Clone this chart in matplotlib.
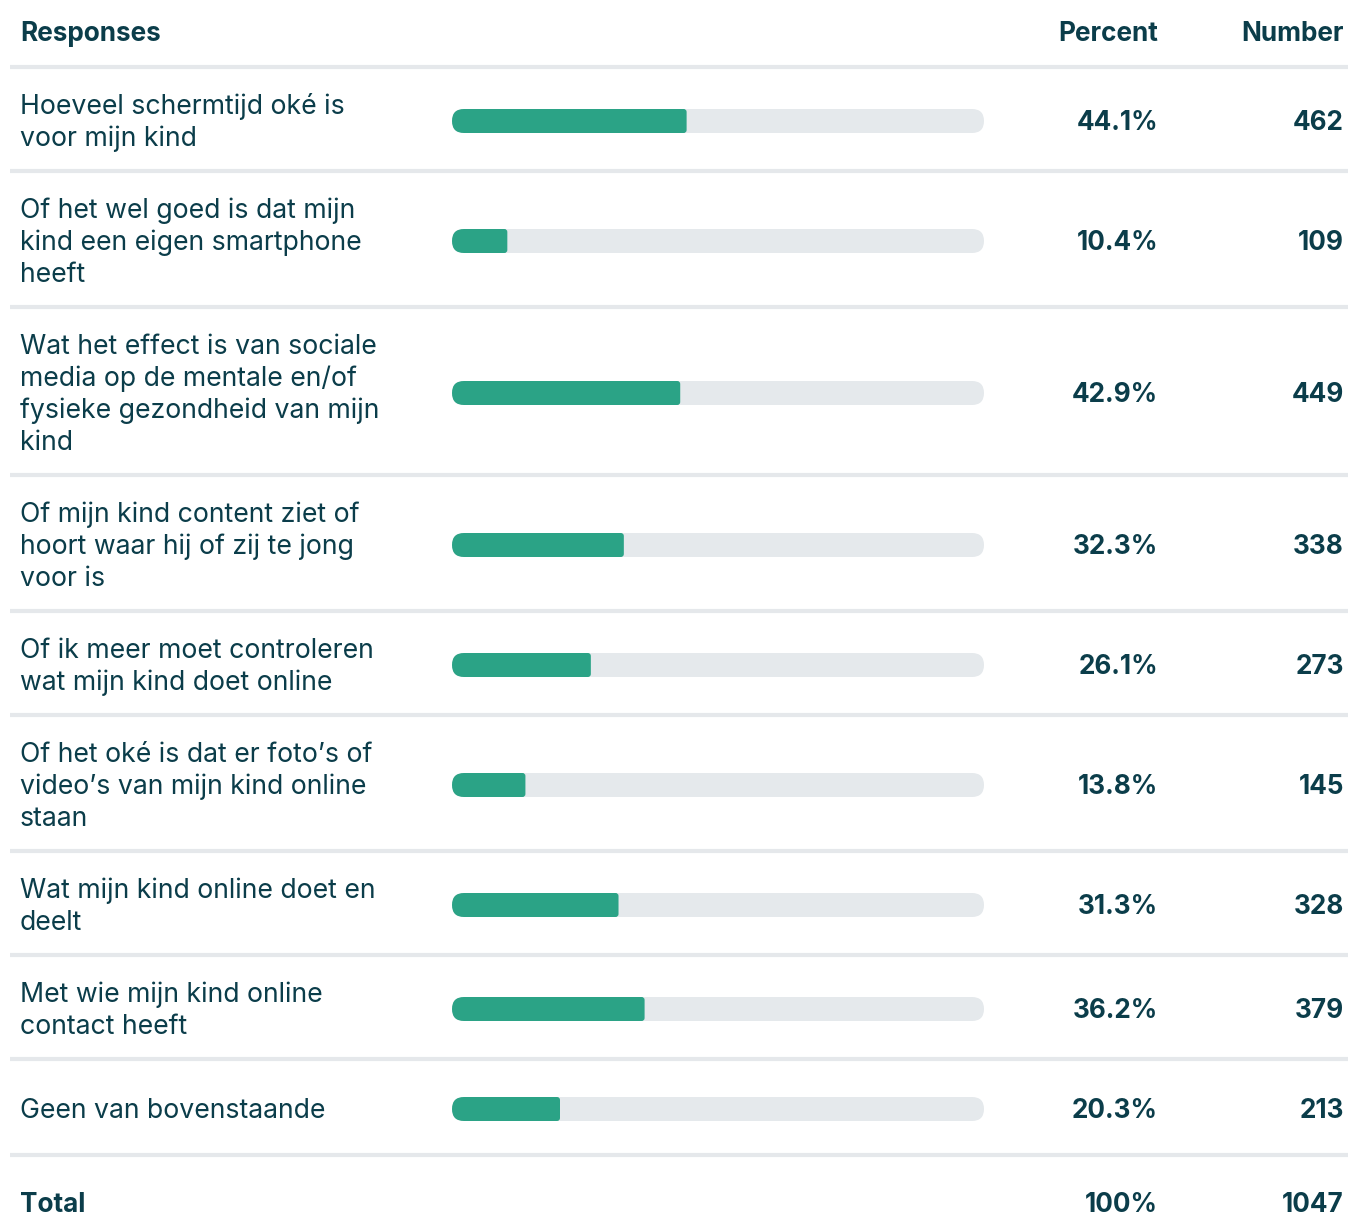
import matplotlib
matplotlib.use("Agg")
import matplotlib.pyplot as plt
from matplotlib.patches import FancyBboxPatch

# Survey responses (label lines), percentages and counts
responses = [
    "Hoeveel schermtijd oké is\nvoor mijn kind",
    "Of het wel goed is dat mijn\nkind een eigen smartphone\nheeft",
    "Wat het effect is van sociale\nmedia op de mentale en/of\nfysieke gezondheid van mijn\nkind",
    "Of mijn kind content ziet of\nhoort waar hij of zij te jong\nvoor is",
    "Of ik meer moet controleren\nwat mijn kind doet online",
    "Of het oké is dat er foto’s of\nvideo’s van mijn kind online\nstaan",
    "Wat mijn kind online doet en\ndeelt",
    "Met wie mijn kind online\ncontact heeft",
    "Geen van bovenstaande",
]
percent = [44.1, 10.4, 42.9, 32.3, 26.1, 13.8, 31.3, 36.2, 20.3]
number = [462, 109, 449, 338, 273, 145, 328, 379, 213]
total_label = "Total"
total_percent = "100%"
total_number = 1047
headers = ["Responses", "Percent", "Number"]

W, H = 1348, 1216
TEXT = "#0b3d4a"
GREEN = "#2ba386"
TRACK = "#e5e9ec"
RULE = "#e5e8eb"
FONT = ["Inter", "DejaVu Sans"]
FS = 19.2
FS_B = 18.8
LINE_H = 32
DY = 2  # baseline nudge for text

fig = plt.figure(figsize=(W / 100, H / 100), dpi=100)
ax = fig.add_axes([0, 0, 1, 1])
ax.set_xlim(0, W)
ax.set_ylim(H, 0)
ax.axis("off")

LEFT = 20
PCT_X = 1158
NUM_X = 1344
BAR_X0, BAR_X1 = 452, 984
BAR_H = 24


def rule(y):
    ax.plot([10, W], [y, y], color=RULE, lw=3, solid_capstyle="butt", zorder=1)


def bold(x, y, s, ha):
    ax.text(x, y + DY, s, fontsize=FS_B, fontweight="bold", color=TEXT,
            family=FONT, ha=ha, va="center")


# Header
bold(LEFT, 32, headers[0], "left")
bold(PCT_X, 32, headers[1], "right")
bold(NUM_X, 32, headers[2], "right")

y = 67
rule(y)
for label, p, n in zip(responses, percent, number):
    lines = label.split("\n")
    row_h = max(len(lines) * LINE_H + 40, 96)
    cy = y + row_h / 2 + 2
    for i, ln in enumerate(lines):
        ly = cy + (i - (len(lines) - 1) / 2) * LINE_H
        ax.text(LEFT, ly + DY, ln, fontsize=FS, color=TEXT, family=FONT,
                ha="left", va="center")

    # Track and filled bar
    track = FancyBboxPatch((BAR_X0, cy - BAR_H / 2), BAR_X1 - BAR_X0, BAR_H,
                           boxstyle="round,pad=0,rounding_size=12",
                           fc=TRACK, ec="none", zorder=2)
    ax.add_patch(track)
    fill_w = (BAR_X1 - BAR_X0) * p / 100
    fill = FancyBboxPatch((BAR_X0, cy - BAR_H / 2), fill_w, BAR_H,
                          boxstyle="round,pad=0,rounding_size=3",
                          fc=GREEN, ec="none", zorder=3)
    ax.add_patch(fill)
    fill.set_clip_path(track)

    bold(PCT_X, cy, f"{p:.1f}%", "right")
    bold(NUM_X, cy, f"{n}", "right")
    y += row_h
    rule(y)

# Total row
ty = 1203
bold(LEFT, ty, total_label, "left")
bold(PCT_X, ty, total_percent, "right")
bold(NUM_X, ty, f"{total_number}", "right")

fig.savefig("out.png", dpi=100, facecolor="white")
